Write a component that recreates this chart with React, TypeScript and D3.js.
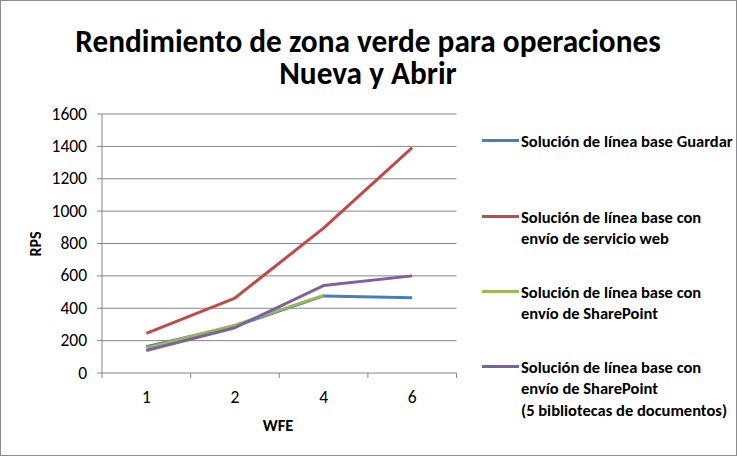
import React from "react";
import * as d3 from "d3";

const categories = ["1", "2", "4", "6"];
const titleLines = ["Rendimiento de zona verde para operaciones", "Nueva y Abrir"];
const seriesNames = [
  ["Solución de línea base Guardar"],
  ["Solución de línea base con", "envío de servicio web"],
  ["Solución de línea base con", "envío de SharePoint"],
  ["Solución de línea base con", "envío de SharePoint", "(5 bibliotecas de documentos)"],
];
const blueValues = [162, 290, 476, 465];
const redValues = [245, 463, 895, 1392];
const greenValues: (number | null)[] = [155, 296, 480, null];
const purpleValues = [139, 280, 540, 600];
const colors = ["#4a7ebb", "#be4b48", "#98b954", "#7d60a0"];
const yTicks = [0, 200, 400, 600, 800, 1000, 1200, 1400, 1600];

const W = 737, H = 456;
const font = "Carlito, Calibri, 'Open Sans', 'Liberation Sans', sans-serif";

export default function App() {
  const x = d3.scaleBand<string>().domain(categories).range([102, 456.5]);
  const y = d3.scaleLinear().domain([0, 1600]).range([373, 114]);
  const series = [blueValues, redValues, greenValues, purpleValues];
  const line = d3
    .line<number | null>()
    .defined((d) => d != null)
    .x((_, i) => (x(categories[i]) as number) + x.bandwidth() / 2)
    .y((d) => y(d as number));
  const legendY = [146.5, 222.5, 297.5, 372.5];
  return (
    <svg width={W} height={H} style={{ position: "absolute", left: 0, top: 0 }} fontFamily={font}>
      <rect x={0.5} y={0.5} width={W - 1} height={H - 1} fill="#fff" stroke="#8c8c8c" />
      <text textAnchor="middle" fontSize={31.3} fontWeight="bold" fill="#000">
        {titleLines.map((l, i) => (
          <tspan key={i} x={368} y={52 + i * 32}>
            {l}
          </tspan>
        ))}
      </text>
      {yTicks.map((t) => (
        <g key={t}>
          <line x1={102} x2={456.5} y1={y(t)} y2={y(t)} stroke="#868686" strokeWidth={1} />
          <line x1={97} x2={102} y1={y(t)} y2={y(t)} stroke="#868686" />
          <text x={87} y={y(t) + 5.5} textAnchor="end" fontSize={17.5} fill="#000">
            {t}
          </text>
        </g>
      ))}
      <line x1={102} x2={102} y1={114} y2={373} stroke="#868686" />
      {categories.map((c, i) => (
        <g key={c}>
          <line
            x1={(x(c) as number) + x.bandwidth()}
            x2={(x(c) as number) + x.bandwidth()}
            y1={373}
            y2={378}
            stroke="#868686"
          />
          {i === 0 && <line x1={102} x2={102} y1={373} y2={378} stroke="#868686" />}
          <text x={(x(c) as number) + x.bandwidth() / 2} y={402.5} textAnchor="middle" fontSize={17.5} fill="#000">
            {c}
          </text>
        </g>
      ))}
      {series.map((s, i) => (
        <path key={i} d={line(s) || ""} fill="none" stroke={colors[i]} strokeWidth={3} strokeLinejoin="round" />
      ))}
      <text x={278} y={431} textAnchor="middle" fontSize={16.5} fontWeight="bold">
        WFE
      </text>
      <text transform="translate(40.5,244) rotate(-90)" textAnchor="middle" fontSize={16} fontWeight="bold">
        RPS
      </text>
      {seriesNames.map((lines, i) => (
        <g key={i}>
          <line x1={482} x2={519} y1={legendY[i] - 6} y2={legendY[i] - 6} stroke={colors[i]} strokeWidth={3} />
          {lines.map((l, j) => (
            <text key={j} x={521} y={legendY[i] + j * 21.7} fontSize={16.5} fontWeight="bold">
              {l}
            </text>
          ))}
        </g>
      ))}
    </svg>
  );
}
